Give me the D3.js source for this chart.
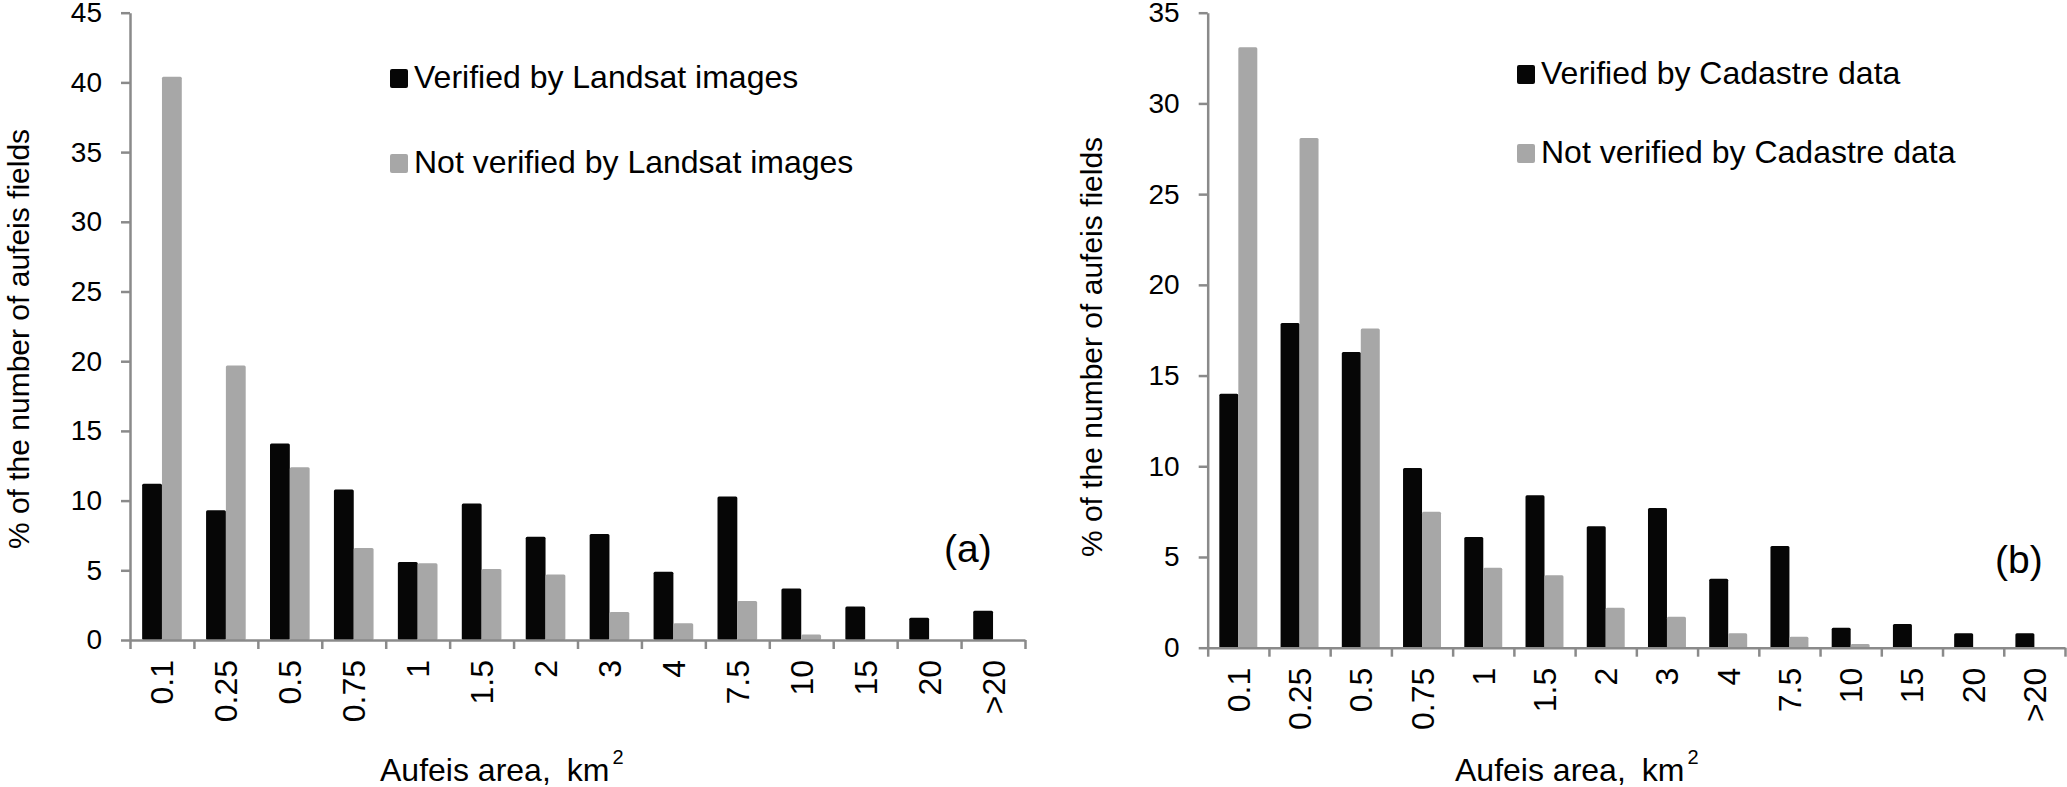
<!DOCTYPE html>
<html>
  <head>
    <meta charset="UTF-8" />
    <script src="https://d3js.org/d3.v7.min.js"></script>
    <style>
      body { margin: 0; background: #fff; }
      text { font-family: "Liberation Sans", Arial, sans-serif; fill: #000; }
    </style>
  </head>
  <body>
    <div id="my_dataviz"></div>

    <script>
      // categories (aufeis area classes, km2)
      const categories = ["0.1", "0.25", "0.5", "0.75", "1", "1.5", "2", "3", "4", "7.5", "10", "15", "20", ">20"];

      // (a) Landsat
      const verifiedLandsat    = [11.2, 9.3, 14.1, 10.8, 5.6, 9.8, 7.4, 7.6, 4.9, 10.3, 3.7, 2.4, 1.6, 2.1];
      const notVerifiedLandsat = [40.4, 19.7, 12.4, 6.6, 5.5, 5.1, 4.7, 2.0, 1.2, 2.8, 0.4, 0, 0, 0];

      // (b) Cadastre
      const verifiedCadastre    = [14.0, 17.9, 16.3, 9.9, 6.1, 8.4, 6.7, 7.7, 3.8, 5.6, 1.1, 1.3, 0.8, 0.8];
      const notVerifiedCadastre = [33.1, 28.1, 17.6, 7.5, 4.4, 4.0, 2.2, 1.7, 0.8, 0.6, 0.2, 0, 0, 0];

      const ticksA = [0, 5, 10, 15, 20, 25, 30, 35, 40, 45];
      const ticksB = [0, 5, 10, 15, 20, 25, 30, 35];

      const axisColor = "#8a8a8a";
      const colors = ["#060606", "#a7a7a7"];

      var svg = d3
        .select("#my_dataviz")
        .append("svg")
        .attr("width", 2067)
        .attr("height", 787);

      function drawPanel(opt) {
        var g = svg.append("g").attr("transform", "translate(" + opt.left + "," + opt.top + ")");

        var x0 = d3.scaleBand().domain(categories).range([0, opt.width]);
        var bw = x0.bandwidth();
        var x1 = d3.scaleBand().domain([0, 1]).range([bw * 0.19, bw * 0.81]);
        var y = d3.scaleLinear().domain([0, d3.max(opt.ticks)]).range([opt.height, 0]);

        // bars
        var rows = categories.map((c, i) => ({ cat: c, vals: [opt.s1[i], opt.s2[i]] }));
        g.selectAll("g.grp")
          .data(rows)
          .join("g")
          .attr("class", "grp")
          .attr("transform", d => "translate(" + x0(d.cat) + ",0)")
          .selectAll("rect")
          .data(d => d.vals.map((v, k) => ({ k: k, v: v })))
          .join("rect")
          .attr("x", d => x1(d.k))
          .attr("width", x1.bandwidth())
          .attr("y", d => y(d.v))
          .attr("height", d => opt.height - y(d.v))
          .attr("rx", 1.5)
          .attr("fill", d => colors[d.k]);

        // y axis
        var yAxis = g.append("g")
          .call(d3.axisLeft(y).tickValues(opt.ticks).tickSize(9).tickSizeOuter(0).tickPadding(19));
        yAxis.selectAll("path, line").attr("stroke", axisColor).attr("stroke-width", 2.5);
        yAxis.selectAll("text").style("font-size", "28px");

        // x axis: labels at band centres
        var xAxis = g.append("g")
          .attr("transform", "translate(0," + opt.height + ")")
          .call(d3.axisBottom(x0).tickSize(0).tickSizeOuter(0));
        xAxis.select(".domain").attr("stroke", axisColor).attr("stroke-width", 2.5);
        xAxis.selectAll("text")
          .style("font-size", "32px")
          .attr("transform", "rotate(-90)")
          .attr("text-anchor", "end")
          .attr("x", -20)
          .attr("y", 0)
          .attr("dy", "0.36em");

        // x axis: tick marks between categories
        var edge = d3.scaleLinear().domain([0, categories.length]).range([0, opt.width]);
        var xTicks = g.append("g")
          .attr("transform", "translate(0," + opt.height + ")")
          .call(d3.axisBottom(edge).tickValues(d3.range(categories.length + 1)).tickSize(9).tickSizeOuter(0).tickFormat(""));
        xTicks.select(".domain").remove();
        xTicks.selectAll("line").attr("stroke", axisColor).attr("stroke-width", 2.5);

        // y title
        svg.append("text")
          .attr("transform", "translate(" + opt.yTitleX + "," + opt.yTitleY + ") rotate(-90)")
          .attr("text-anchor", "middle")
          .style("font-size", "30px")
          .text("% of the number of aufeis fields");

        // x title
        var xt = svg.append("text")
          .attr("x", opt.xTitleX)
          .attr("y", 781)
          .style("font-size", "32px");
        xt.append("tspan").text("Aufeis area,");
        xt.append("tspan").attr("dx", 16).text("km");
        xt.append("tspan").attr("dx", 3).attr("dy", -17).style("font-size", "20px").text("2");

        // legend
        var lg = svg.append("g").attr("transform", "translate(" + opt.legX + "," + opt.legY + ")");
        opt.legend.forEach((name, k) => {
          lg.append("rect")
            .attr("x", 0)
            .attr("y", k * opt.legStep - 19)
            .attr("width", 18)
            .attr("height", 19)
            .attr("rx", 2)
            .attr("fill", colors[k]);
          lg.append("text")
            .attr("x", 24)
            .attr("y", k * opt.legStep)
            .style("font-size", "32px")
            .text(name);
        });

        // panel letter
        svg.append("text")
          .attr("x", opt.letterX)
          .attr("y", opt.letterY)
          .style("font-size", "39px")
          .text(opt.letter);
      }

      drawPanel({
        left: 130, top: 12.7, width: 895, height: 627.3,
        ticks: ticksA, s1: verifiedLandsat, s2: notVerifiedLandsat,
        legend: ["Verified by Landsat images", "Not verified by Landsat images"],
        legX: 390, legY: 88, legStep: 85,
        yTitleX: 29, yTitleY: 339,
        xTitleX: 380,
        letter: "(a)", letterX: 944, letterY: 562
      });

      drawPanel({
        left: 1207.7, top: 12.7, width: 857.3, height: 635,
        ticks: ticksB, s1: verifiedCadastre, s2: notVerifiedCadastre,
        legend: ["Verified by Cadastre data", "Not verified by Cadastre data"],
        legX: 1517, legY: 84, legStep: 79,
        yTitleX: 1102, yTitleY: 347,
        xTitleX: 1455,
        letter: "(b)", letterX: 1995, letterY: 573
      });
    </script>
  </body>
</html>
